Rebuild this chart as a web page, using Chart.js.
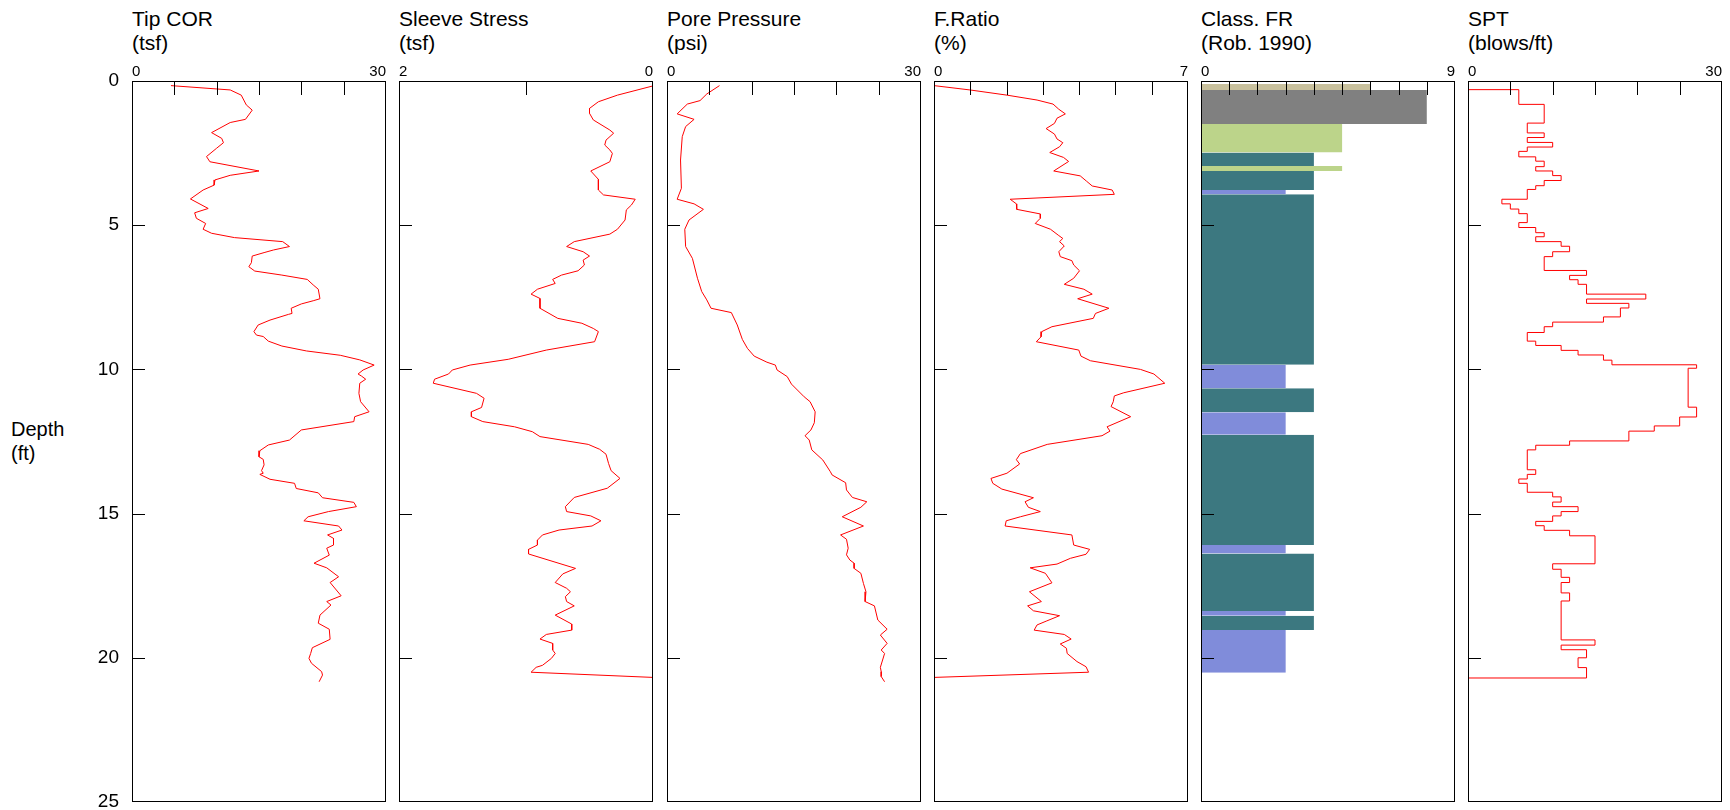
<!DOCTYPE html>
<html>
<head>
<meta charset="utf-8">
<script src="https://cdn.jsdelivr.net/npm/chart.js@4.4.1/dist/chart.umd.min.js"></script>
<style>
  body { margin: 0; background: #fff; font-family: "Liberation Sans", Arial, sans-serif; }
  #wrap { position: relative; width: 1730px; height: 810px; overflow: hidden; }
  canvas { position: absolute; top: 0; }
  .title { position: absolute; top: 7px; font-size: 21px; line-height: 24px; color: #000; white-space: pre; }
  #depth { position: absolute; left: 11px; top: 417px; font-size: 20px; line-height: 24px; white-space: pre; }
</style>
</head>
<body>
<div id="wrap">
  <div id="depth">Depth
(ft)</div>
</div>
<script>
// ---- data (depth in ft) ----
const depthTicks = [0, 5, 10, 15, 20, 25];
const tipTicks = [0, 5, 10, 15, 20, 25, 30];
const sleeveTicks = [0, 1, 2];
const poreTicks = [0, 5, 10, 15, 20, 25, 30];
const frTicks = [0, 1, 2, 3, 4, 5, 6, 7];
const classTicks = [0, 1, 2, 3, 4, 5, 6, 7, 8, 9];
const sptTicks = [0, 5, 10, 15, 20, 25, 30];

const tipDepth = [0.16, 0.31, 0.49, 0.83, 1.01, 1.33, 1.44, 1.79, 1.99, 2.14, 2.33, 2.62, 2.80, 3.12, 3.27, 3.43, 3.61, 3.78, 4.09, 4.42,
  4.57, 4.76, 4.94, 5.14, 5.28, 5.43, 5.57, 5.74, 5.86, 5.95, 6.07, 6.30, 6.44, 6.59, 6.73, 6.88, 7.07, 7.22, 7.55, 7.62,
  7.73, 7.88, 8.06, 8.09, 8.29, 8.46, 8.69, 8.81, 8.86, 9.02, 9.19, 9.36, 9.51, 9.67, 9.85, 10.02, 10.16, 10.23, 10.34, 10.48,
  10.83, 11.12, 11.47, 11.64, 11.81, 12.10, 12.45, 12.62, 12.82, 13.03, 13.12, 13.31, 13.51, 13.60, 13.64, 13.81, 13.95, 14.13, 14.28, 14.45,
  14.61, 14.76, 14.93, 15.11, 15.25, 15.43, 15.57, 15.74, 15.86, 16.09, 16.20, 16.44, 16.72, 16.88, 17.19, 17.39, 17.85, 18.05, 18.17, 18.52,
  18.80, 19.01, 19.36, 19.65, 19.85, 20.02, 20.19, 20.48, 20.60, 20.83];
const tipCor = [4.6, 11.6, 12.9, 13.5, 14.2, 13.4, 11.6, 9.4, 10.6, 10.8, 10.0, 8.8, 9.2, 15.0, 11.6, 9.8, 9.7, 8.4, 6.9, 9.0,
  7.4, 7.6, 8.7, 8.4, 9.4, 12.1, 17.8, 18.6, 16.7, 15.6, 14.2, 14.1, 13.8, 14.5, 17.7, 20.7, 21.4, 22.0, 22.2, 21.4,
  20.0, 18.8, 18.9, 18.5, 16.3, 14.9, 14.4, 14.7, 15.5, 16.1, 17.7, 20.6, 24.6, 26.9, 28.6, 27.3, 26.7, 27.1, 27.6, 26.9,
  26.8, 27.0, 28.0, 26.3, 26.2, 20.0, 18.6, 16.1, 15.1, 15.0, 15.5, 15.6, 15.3, 15.5, 15.1, 16.3, 19.2, 19.4, 22.0, 22.5,
  26.2, 26.5, 23.2, 20.8, 20.3, 24.4, 24.8, 23.1, 23.8, 23.8, 23.0, 23.3, 21.5, 23.0, 24.4, 23.4, 24.7, 23.0, 23.5, 22.2,
  22.0, 23.3, 23.4, 21.3, 21.1, 20.9, 21.2, 22.4, 22.5, 22.1];

const sleeveDepth = [0.17, 0.49, 0.72, 0.95, 1.12, 1.35, 1.70, 1.81, 2.05, 2.22, 2.39, 2.51, 2.80, 3.12, 3.41, 3.78, 3.95, 4.10, 4.30, 4.47,
  4.82, 5.14, 5.31, 5.57, 5.74, 5.92, 6.07, 6.21, 6.38, 6.58, 6.73, 6.88, 7.02, 7.22, 7.39, 7.54, 7.88, 8.23, 8.40, 8.58,
  8.69, 9.04, 9.33, 9.65, 9.85, 10.02, 10.16, 10.34, 10.48, 10.83, 11.00, 11.32, 11.47, 11.64, 11.81, 11.99, 12.16, 12.33, 12.60, 12.77,
  12.94, 13.26, 13.51, 13.78, 14.12, 14.44, 14.76, 14.93, 15.08, 15.25, 15.43, 15.57, 15.74, 15.92, 16.09, 16.24, 16.40, 16.90, 17.09, 17.39,
  17.59, 17.71, 17.88, 18.05, 18.20, 18.52, 18.83, 19.04, 19.19, 19.35, 19.50, 19.73, 19.85, 20.02, 20.26, 20.33, 20.50, 20.68];
const sleeveStress = [0.00, 0.28, 0.43, 0.50, 0.50, 0.47, 0.34, 0.31, 0.37, 0.38, 0.34, 0.32, 0.34, 0.49, 0.43, 0.43, 0.39, 0.14, 0.17, 0.21,
  0.22, 0.28, 0.34, 0.62, 0.68, 0.55, 0.50, 0.55, 0.54, 0.59, 0.72, 0.79, 0.77, 0.91, 0.96, 0.89, 0.89, 0.75, 0.56, 0.47,
  0.43, 0.46, 0.84, 1.14, 1.44, 1.58, 1.61, 1.72, 1.73, 1.39, 1.33, 1.35, 1.43, 1.43, 1.34, 1.09, 0.95, 0.89, 0.51, 0.42,
  0.37, 0.35, 0.33, 0.26, 0.36, 0.62, 0.69, 0.68, 0.49, 0.41, 0.48, 0.74, 0.87, 0.91, 0.91, 0.98, 0.98, 0.61, 0.71, 0.77,
  0.68, 0.65, 0.69, 0.68, 0.62, 0.77, 0.64, 0.64, 0.84, 0.89, 0.79, 0.79, 0.77, 0.80, 0.87, 0.92, 0.96, 0.00];

const poreDepth = [0.16, 0.45, 0.68, 0.80, 1.14, 1.33, 1.58, 1.93, 2.74, 3.72, 4.10, 4.26, 4.45, 4.82, 5.14, 5.74, 6.15, 6.84, 7.30, 7.59,
  7.88, 8.03, 8.46, 8.96, 9.27, 9.54, 9.75, 9.85, 10.02, 10.25, 10.51, 10.95, 11.12, 11.47, 11.85, 12.10, 12.30, 12.45, 12.79, 13.14,
  13.55, 13.66, 13.93, 14.18, 14.44, 14.59, 14.78, 15.11, 15.43, 15.74, 15.89, 16.20, 16.43, 16.61, 16.72, 16.90, 17.07, 17.42, 17.71, 18.05,
  18.20, 18.69, 19.01, 19.21, 19.50, 19.73, 19.85, 20.33, 20.48, 20.65, 20.83];
const porePressure = [6.2, 4.7, 3.9, 2.4, 1.2, 3.2, 2.2, 1.8, 1.6, 1.7, 1.2, 3.2, 4.3, 2.6, 2.1, 2.2, 3.0, 3.6, 4.1, 4.7,
  5.2, 7.6, 8.3, 8.9, 9.5, 10.3, 11.8, 12.8, 13.0, 14.2, 14.7, 16.2, 16.9, 17.5, 17.4, 17.0, 16.3, 16.8, 17.1, 18.4,
  19.3, 19.5, 21.1, 21.2, 21.9, 23.6, 22.9, 20.7, 23.2, 20.5, 21.2, 21.4, 21.2, 21.6, 22.1, 22.1, 22.9, 23.2, 23.5, 23.4,
  24.5, 24.9, 26.0, 25.2, 26.0, 25.3, 25.7, 25.2, 25.3, 25.3, 25.7];

const frDepth = [0.16, 0.31, 0.49, 0.66, 0.80, 0.98, 1.14, 1.29, 1.47, 1.65, 1.84, 2.01, 2.14, 2.28, 2.48, 2.65, 2.79, 3.12, 3.29, 3.47,
  3.64, 3.78, 3.93, 4.10, 4.26, 4.45, 4.61, 4.76, 4.94, 5.14, 5.36, 5.46, 5.57, 5.72, 5.92, 6.09, 6.23, 6.38, 6.58, 6.84,
  7.05, 7.22, 7.39, 7.55, 7.88, 8.06, 8.23, 8.52, 8.69, 8.87, 9.04, 9.33, 9.54, 9.70, 10.00, 10.16, 10.48, 10.81, 10.92, 11.12,
  11.29, 11.64, 11.99, 12.14, 12.30, 12.60, 12.92, 13.13, 13.28, 13.60, 13.78, 13.95, 14.15, 14.45, 14.59, 14.78, 14.93, 15.11, 15.25, 15.43,
  15.74, 16.09, 16.24, 16.41, 16.55, 16.75, 16.88, 17.07, 17.40, 17.71, 18.05, 18.20, 18.37, 18.54, 18.72, 18.86, 19.04, 19.19, 19.35, 19.52,
  19.67, 19.85, 20.13, 20.31, 20.50, 20.68];
const frictionRatio = [0.00, 0.99, 2.01, 2.84, 3.28, 3.44, 3.62, 3.39, 3.32, 3.09, 3.32, 3.39, 3.55, 3.46, 3.19, 3.57, 3.71, 3.30, 4.03, 4.20,
  4.36, 4.91, 4.97, 2.10, 2.27, 2.28, 2.93, 2.93, 2.79, 3.21, 3.44, 3.55, 3.46, 3.59, 3.44, 3.48, 3.80, 3.85, 4.01, 3.85,
  3.59, 4.13, 4.36, 3.96, 4.82, 4.45, 4.39, 3.25, 2.97, 2.95, 2.82, 3.99, 4.05, 4.31, 5.69, 6.06, 6.36, 5.23, 4.97, 4.94,
  4.88, 5.42, 4.77, 4.85, 4.63, 3.12, 2.38, 2.27, 2.36, 2.01, 1.57, 1.62, 1.87, 2.74, 2.51, 2.60, 2.93, 2.38, 1.99, 1.96,
  3.80, 3.85, 4.29, 4.19, 3.76, 3.39, 2.65, 3.07, 3.25, 2.63, 2.96, 2.58, 2.74, 3.46, 3.11, 2.84, 2.76, 3.59, 3.78, 3.48,
  3.65, 3.67, 3.94, 4.19, 4.26, 0.00];

// Robertson 1990 soil behaviour zones, by layer
const classTop    = [0.10, 0.31, 1.49, 2.48, 2.95, 3.12, 3.78, 3.93, 9.84, 10.65, 11.49, 12.27, 16.09, 16.38, 18.38, 18.54, 19.04];
const classBottom = [0.31, 1.49, 2.48, 2.95, 3.12, 3.78, 3.93, 9.84, 10.65, 11.49, 12.27, 16.09, 16.38, 18.38, 18.54, 19.04, 20.52];
const classZone   = [6, 8, 5, 4, 5, 4, 3, 4, 3, 4, 3, 4, 3, 4, 3, 4, 3];

// SPT: blow count of each interval, from its top depth down to the next
const sptTop = [0.30, 0.81, 1.46, 1.80, 1.96, 2.13, 2.29, 2.44, 2.63, 2.78, 2.97, 3.12, 3.28, 3.45, 3.63, 3.76, 4.10, 4.26, 4.44, 4.60,
  4.91, 5.08, 5.26, 5.40, 5.57, 5.73, 5.92, 6.09, 6.57, 6.74, 6.89, 7.05, 7.39, 7.56, 7.71, 7.87, 8.18, 8.36, 8.52, 8.72,
  9.02, 9.17, 9.34, 9.50, 9.68, 9.84, 9.96, 11.31, 11.65, 11.96, 12.14, 12.48, 12.63, 12.79, 13.48, 13.64, 13.80, 13.95, 14.26, 14.42,
  14.60, 14.76, 14.93, 15.08, 15.27, 15.42, 15.58, 15.77, 16.74, 16.93, 17.21, 17.39, 17.75, 18.03, 19.38, 19.56, 19.72, 20.00, 20.34];
const sptBlows = [6, 9, 7, 9, 7, 10, 7, 6, 8, 9, 8, 10, 11, 9, 8, 7, 4, 5, 6, 7,
  6, 8, 9, 8, 11, 12, 10, 9, 14, 12, 13, 14, 21, 14, 19, 18, 16, 10, 9, 7,
  8, 11, 13, 16, 17, 27, 26, 27, 25, 22, 19, 12, 8, 7, 8, 7, 6, 7, 10, 11,
  10, 13, 11, 10, 8, 9, 12, 15, 10, 11, 12, 11, 12, 11, 15, 11, 14, 13, 14];
const sptEnd = 20.70;

// ---- layout ----
const PLOT_TOP = 81, PLOT_BOTTOM = 802, PLOT_W = 254;
const panelLeft = [132, 399, 667, 934, 1201, 1468];
const FONT = '"Liberation Sans", Arial, sans-serif';
const RED = '#ff0000';
const zoneColor = { 3: '#808cda', 4: '#3c7880', 5: '#bcd48a', 6: '#c9c19d', 8: '#808080' };

Chart.defaults.font.family = FONT;

const toPoints = (depths, values) => depths.map((d, i) => ({ x: values[i], y: d }));

function curve(depths, values) {
  return {
    data: toPoints(depths, values),
    borderColor: RED,
    borderWidth: 1,
    pointRadius: 0,
    fill: false,
    tension: 0
  };
}

// inward tick marks, end labels of the top axis, frame round the plot area
const frame = {
  id: 'frame',
  afterDraw(chart, args, opts) {
    const { ctx, chartArea: a, scales: { x, y } } = chart;
    ctx.save();
    ctx.fillStyle = '#000';
    opts.xTicks.forEach(v => {
      const px = Math.round(x.getPixelForValue(v));
      ctx.fillRect(Math.min(px, a.right - 1), a.top, 1, 14);
    });
    opts.yTicks.forEach(v => {
      const py = Math.round(y.getPixelForValue(v));
      ctx.fillRect(a.left, Math.min(py, a.bottom - 1), 13, 1);
    });
    ctx.strokeStyle = '#000';
    ctx.lineWidth = 1;
    ctx.strokeRect(a.left + 0.5, a.top + 0.5, a.width - 1, a.height - 1);

    ctx.font = '15px ' + FONT;
    ctx.textBaseline = 'alphabetic';
    [x.min, x.max].forEach(v => {
      const atLeft = Math.abs(x.getPixelForValue(v) - a.left) < 1;
      ctx.textAlign = atLeft ? 'left' : 'right';
      ctx.fillText(String(v), atLeft ? a.left : a.right, a.top - 5);
    });
    ctx.restore();
  }
};

function makePanel(i, title, xOpts, datasets) {
  const wrap = document.getElementById('wrap');
  const canvasLeft = i === 0 ? 0 : panelLeft[i] - 6;
  const leftPad = panelLeft[i] - canvasLeft;

  const t = document.createElement('div');
  t.className = 'title';
  t.style.left = panelLeft[i] + 'px';
  t.textContent = title;
  wrap.appendChild(t);

  const c = document.createElement('canvas');
  c.width = leftPad + PLOT_W + 4;
  c.height = 810;
  c.style.left = canvasLeft + 'px';
  wrap.appendChild(c);

  const { ticks, reverse = false } = xOpts;

  new Chart(c, {
    type: 'line',
    data: { datasets },
    options: {
      responsive: false,
      animation: false,
      events: [],
      indexAxis: 'y',
      layout: { padding: { top: 0, right: 4, bottom: 810 - PLOT_BOTTOM, left: 0 } },
      plugins: {
        legend: { display: false },
        tooltip: { enabled: false },
        frame: { xTicks: ticks, yTicks: depthTicks }
      },
      scales: {
        x: {
          type: 'linear',
          position: 'top',
          min: ticks[0],
          max: ticks[ticks.length - 1],
          reverse,
          grid: { display: false, drawTicks: false },
          border: { display: false },
          afterBuildTicks: s => { s.ticks = ticks.map(v => ({ value: v })); },
          ticks: { display: false },
          afterFit: s => {
            s.height = PLOT_TOP;
            s.paddingLeft = s.paddingRight = 0;
          }
        },
        y: {
          type: 'linear',
          position: 'left',
          min: depthTicks[0],
          max: depthTicks[depthTicks.length - 1],
          reverse: true,
          grid: { display: false, drawTicks: false },
          border: { display: false },
          afterBuildTicks: s => { s.ticks = depthTicks.map(v => ({ value: v })); },
          ticks: {
            display: i === 0,
            padding: 13,
            color: '#000',
            font: { size: 19 }
          },
          afterFit: s => {
            s.width = leftPad;
            s.paddingTop = s.paddingBottom = 0;
          }
        }
      }
    },
    plugins: [frame]
  });
}

// ---- panels ----
makePanel(0, 'Tip COR\n(tsf)', { ticks: tipTicks }, [curve(tipDepth, tipCor)]);
makePanel(1, 'Sleeve Stress\n(tsf)', { ticks: sleeveTicks, reverse: true }, [curve(sleeveDepth, sleeveStress)]);
makePanel(2, 'Pore Pressure\n(psi)', { ticks: poreTicks }, [curve(poreDepth, porePressure)]);
makePanel(3, 'F.Ratio\n(%)', { ticks: frTicks }, [curve(frDepth, frictionRatio)]);

const classSets = classZone.map((z, k) => ({
  data: [{ x: z, y: classTop[k] }, { x: z, y: classBottom[k] }],
  borderColor: 'rgba(0,0,0,0)',
  borderWidth: 0,
  pointRadius: 0,
  backgroundColor: zoneColor[z],
  fill: 'origin'
}));
makePanel(4, 'Class. FR\n(Rob. 1990)', { ticks: classTicks }, classSets);

const sptPoints = [{ x: 0, y: sptTop[0] }]
  .concat(sptTop.map((d, k) => ({ x: sptBlows[k], y: d })))
  .concat([{ x: sptBlows[sptBlows.length - 1], y: sptEnd }, { x: 0, y: sptEnd }]);
makePanel(5, 'SPT\n(blows/ft)', { ticks: sptTicks }, [{
  data: sptPoints,
  borderColor: RED,
  borderWidth: 1,
  pointRadius: 0,
  fill: false,
  stepped: 'after'
}]);
</script>
</body>
</html>
